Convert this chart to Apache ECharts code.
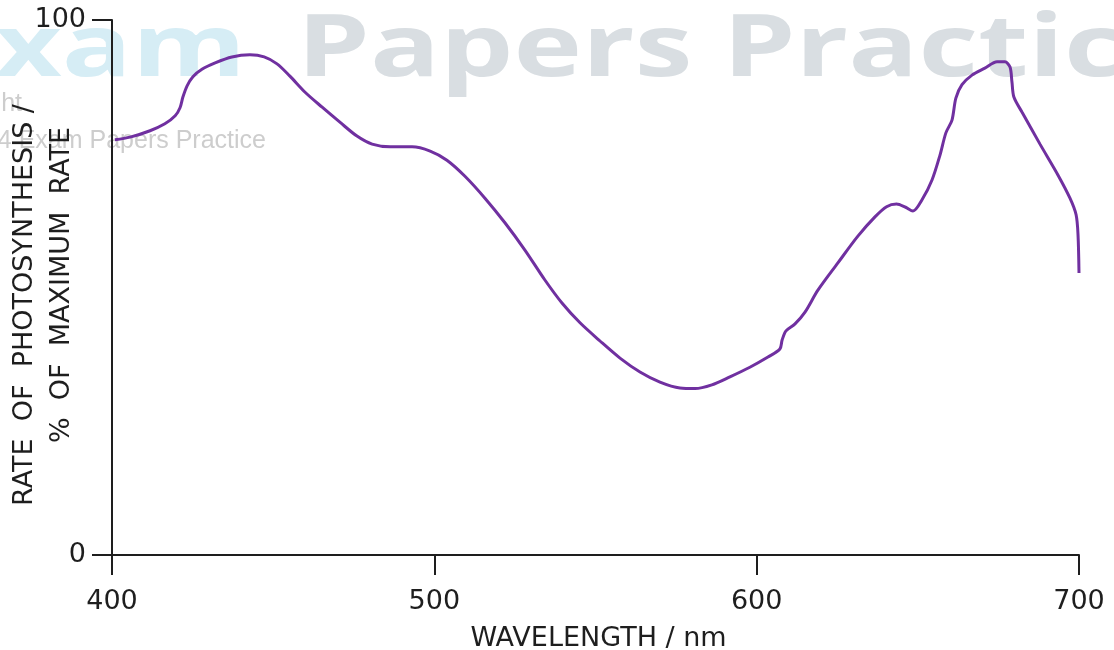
<!DOCTYPE html>
<html>
<head>
<meta charset="utf-8">
<script src="https://cdn.jsdelivr.net/npm/echarts@6/dist/echarts.min.js"></script>
<style>
  html, body { margin: 0; padding: 0; background: #fff; }
  #chart { width: 1114px; height: 650px; }
</style>
</head>
<body>
<div id="chart"></div>
<script>
// Action spectrum of photosynthesis: wavelength (nm) against rate (% of maximum)
const wavelengths = [400.9, 405.6, 411.8, 416.4, 419.6, 421.1, 422.0, 423.3, 425.1, 427.9, 432.0, 437.2, 442.8, 447.2, 451.2, 455.2, 459.9, 465.2, 470.7, 476.0, 480.7, 486.3, 493.1, 498.7, 503.9, 509.5, 515.7, 521.9, 528.1, 534.3, 539.6, 545.2, 551.4, 557.6, 563.8, 570.0, 576.2, 580.9, 586.1, 591.7, 597.9, 603.5, 607.2, 607.9, 609.1, 611.9, 615.0, 619.0, 625.2, 631.4, 636.7, 640.3, 643.4, 646.2, 648.5, 651.3, 654.4, 656.9, 658.7, 660.6, 661.8, 663.7, 666.8, 670.8, 674.6, 677.0, 678.6, 679.2, 679.8, 682.3, 687.9, 693.5, 697.2, 699.1, 699.7, 700];
const rates = [77.6, 78.1, 79.3, 80.6, 82.1, 83.6, 85.6, 87.7, 89.4, 90.8, 92.0, 93.1, 93.5, 93.1, 91.8, 89.5, 86.5, 83.7, 80.9, 78.3, 76.8, 76.3, 76.3, 75.5, 73.8, 70.8, 66.7, 62.1, 57.0, 51.4, 47.1, 43.4, 40.0, 36.8, 34.2, 32.3, 31.2, 31.1, 31.8, 33.3, 35.1, 37.0, 38.5, 40.2, 41.9, 43.2, 45.4, 49.5, 54.6, 59.6, 63.2, 65.1, 65.6, 65.0, 64.3, 66.4, 70.1, 74.8, 78.9, 81.3, 85.4, 87.9, 89.7, 91.0, 92.2, 92.2, 91.2, 88.4, 85.6, 82.8, 76.8, 71.0, 66.7, 63.6, 59.8, 52.7];
const xTicks = [400, 500, 600, 700];
const yTicks = [0, 100];

const FONT = 'DejaVu Sans';
const INK = '#1e1e1e';

const points = wavelengths.map((w, i) => [w, rates[i]]);

const chart = echarts.init(document.getElementById('chart'), null, { renderer: 'canvas' });

chart.setOption({
  animation: false,
  backgroundColor: '#ffffff',
  graphic: [
    // faint publisher mark behind the plot
    {
      type: 'text', z: -10, x: 246, y: 51, scaleX: 1.35,
      style: { x: 0, y: 0, text: 'Exam', textAlign: 'right', textVerticalAlign: 'middle',
               font: 'bold 86px "Open Sans"', fill: '#d6edf5' }
    },
    {
      type: 'text', z: -10, x: 297, y: 51, scaleX: 1.35,
      style: { x: 0, y: 0, text: 'Papers Practice', textAlign: 'left', textVerticalAlign: 'middle',
               font: 'bold 86px "Open Sans"', fill: '#d9dee2' }
    },
    {
      type: 'text', z: -10,
      style: { x: 22, y: 104, text: 'Copyright', textAlign: 'right', textVerticalAlign: 'middle',
               font: '25px "Liberation Sans"', fill: '#cdcdcd' }
    },
    {
      type: 'text', z: -10,
      style: { x: 266, y: 141, text: '\u00A9 2024 Exam Papers Practice', textAlign: 'right', textVerticalAlign: 'middle',
               font: '25px "Liberation Sans"', fill: '#cdcdcd' }
    },
    // y-axis title, two rotated lines
    {
      type: 'text', x: 25, y: 305, rotation: Math.PI / 2,
      style: { x: 0, y: 0, text: 'RATE  OF  PHOTOSYNTHESIS /', textAlign: 'center', textVerticalAlign: 'middle',
               font: '27px "' + FONT + '"', fill: INK }
    },
    {
      type: 'text', x: 62, y: 285, rotation: Math.PI / 2,
      style: { x: 0, y: 0, text: '%  OF  MAXIMUM  RATE', textAlign: 'center', textVerticalAlign: 'middle',
               font: '27px "' + FONT + '"', fill: INK }
    }
  ],
  grid: { left: 112, right: 35, top: 20, bottom: 95, containLabel: false, outerBoundsMode: 'none' },
  xAxis: {
    type: 'value',
    min: 400, max: 700, interval: 100,
    name: 'WAVELENGTH / nm',
    nameLocation: 'middle',
    nameGap: 70,
    nameTextStyle: { fontFamily: FONT, fontSize: 27, color: INK, padding: [0, 0, 0, 6] },
    axisLine: { show: true, lineStyle: { color: INK, width: 2 } },
    axisTick: { show: true, length: 20, lineStyle: { color: INK, width: 2 } },
    axisLabel: { fontFamily: FONT, fontSize: 27, color: INK, margin: 33,
                 formatter: v => xTicks.includes(v) ? String(v) : '' },
    splitLine: { show: false }
  },
  yAxis: {
    type: 'value',
    min: 0, max: 100, interval: 100,
    axisLine: { show: true, lineStyle: { color: INK, width: 2 } },
    axisTick: { show: true, length: 20, lineStyle: { color: INK, width: 2 } },
    axisLabel: { fontFamily: FONT, fontSize: 27, color: INK, margin: 26,
                 formatter: v => yTicks.includes(v) ? String(v) : '' },
    splitLine: { show: false }
  },
  series: [{
    type: 'line',
    data: points,
    smooth: 0.3,
    showSymbol: false,
    lineStyle: { color: '#7030a0', width: 3 },
    z: 5
  }]
});
</script>
</body>
</html>
